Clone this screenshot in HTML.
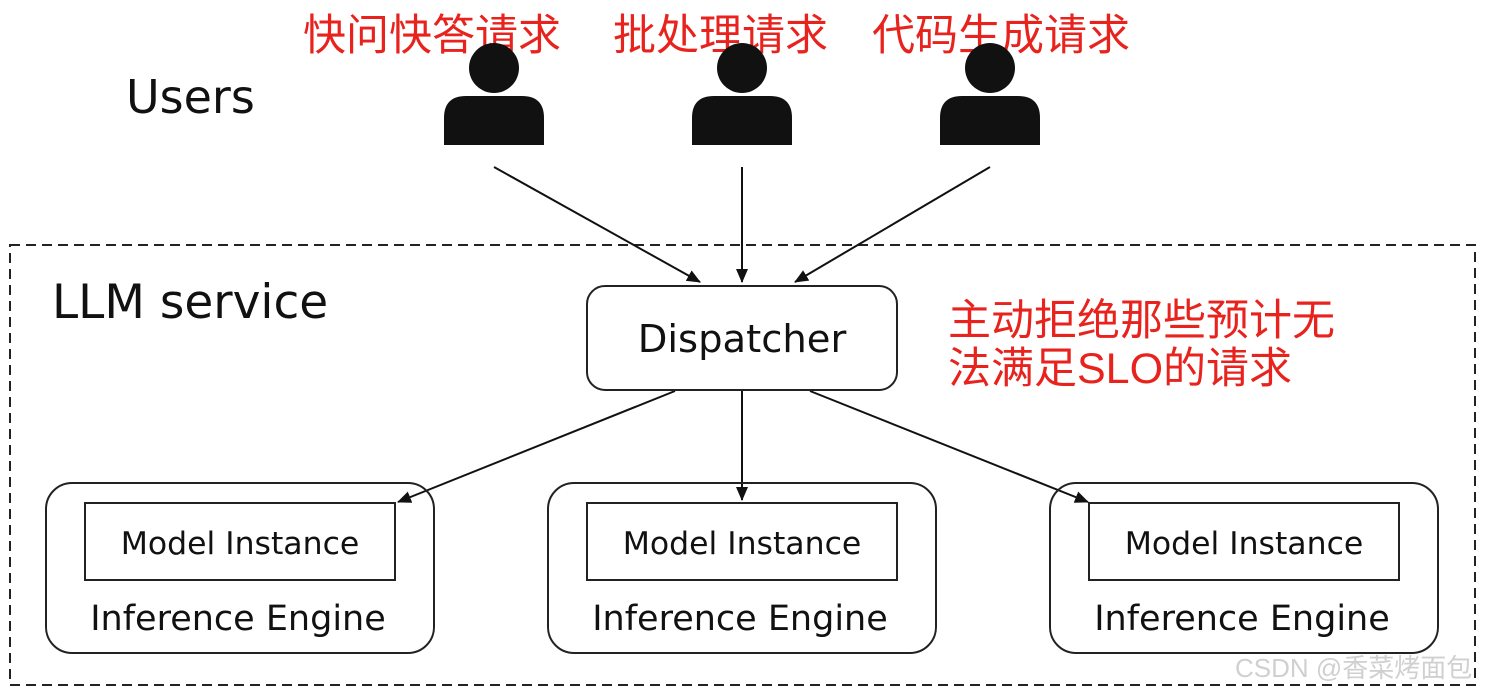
<!DOCTYPE html>
<html><head><meta charset="utf-8"><style>
html,body{margin:0;padding:0;background:#fff;}
svg{display:block;}
.cn{font-family:"Liberation Sans","Noto Sans CJK SC",sans-serif;fill:#e8231e;}
.en{font-family:"DejaVu Sans","Liberation Sans",sans-serif;fill:#111;}
</style></head><body>
<svg width="1488" height="694" viewBox="0 0 1488 694" xmlns="http://www.w3.org/2000/svg">
<defs><marker id="a" markerWidth="14" markerHeight="12" refX="13" refY="6" orient="auto" markerUnits="userSpaceOnUse"><path d="M0,0 L14,6 L0,12 z" fill="#111"/></marker></defs>
<rect x="0" y="0" width="1488" height="694" fill="#fff"/>
<text class="cn" x="303" y="50" font-size="43">快问快答请求</text>
<text class="cn" x="613" y="50" font-size="43">批处理请求</text>
<text class="cn" x="872" y="50" font-size="43">代码生成请求</text>
<text class="en" x="126" y="113" font-size="46">Users</text>
<g fill="#111">
<circle cx="494" cy="68" r="25"/><path d="M444,145 L444,118 Q444,96 466,96 L522,96 Q544,96 544,118 L544,145 z"/>
<circle cx="742" cy="68" r="25"/><path d="M692,145 L692,118 Q692,96 714,96 L770,96 Q792,96 792,118 L792,145 z"/>
<circle cx="990" cy="68" r="25"/><path d="M940,145 L940,118 Q940,96 962,96 L1018,96 Q1040,96 1040,118 L1040,145 z"/>
</g>
<rect x="10" y="245" width="1465" height="440" fill="none" stroke="#222" stroke-width="2" stroke-dasharray="10,6"/>
<text class="en" x="52" y="318" font-size="47">LLM service</text>
<g stroke="#111" stroke-width="2" marker-end="url(#a)">
<line x1="494" y1="167" x2="700" y2="282"/>
<line x1="742" y1="167" x2="742" y2="282"/>
<line x1="990" y1="167" x2="795" y2="282"/>
<line x1="675" y1="391" x2="398" y2="502"/>
<line x1="742" y1="391" x2="742" y2="500"/>
<line x1="810" y1="391" x2="1088" y2="502"/>
</g>
<rect x="587" y="286" width="310" height="104" rx="18" fill="#fff" stroke="#222" stroke-width="2"/>
<text class="en" x="742" y="352" font-size="38.5" text-anchor="middle">Dispatcher</text>
<text class="cn" x="948" y="335" font-size="43">主动拒绝那些预计无</text>
<text class="cn" x="948" y="383" font-size="43">法满足SLO的请求</text>
<g fill="none" stroke="#222" stroke-width="2">
<rect x="46" y="483" width="388" height="170" rx="26"/>
<rect x="548" y="483" width="388" height="170" rx="26"/>
<rect x="1050" y="483" width="388" height="170" rx="26"/>
<rect x="85" y="503" width="310" height="77"/>
<rect x="587" y="503" width="310" height="77"/>
<rect x="1089" y="503" width="310" height="77"/>
</g>
<g class="en" text-anchor="middle">
<text x="240" y="554" font-size="31.5">Model Instance</text>
<text x="742" y="554" font-size="31.5">Model Instance</text>
<text x="1244" y="554" font-size="31.5">Model Instance</text>
<text x="238" y="630" font-size="35">Inference Engine</text>
<text x="740" y="630" font-size="35">Inference Engine</text>
<text x="1242" y="630" font-size="35">Inference Engine</text>
</g>
<text x="1235" y="677" font-size="26" fill="#d0d0d0" font-family="Liberation Sans,Noto Sans CJK SC,sans-serif">CSDN @香菜烤面包</text>
</svg>
</body></html>
